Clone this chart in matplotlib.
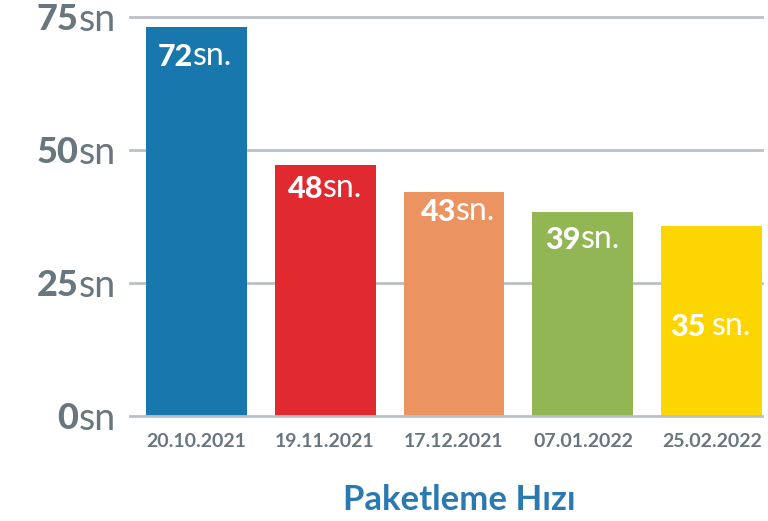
import matplotlib
matplotlib.use("Agg")
import matplotlib.pyplot as plt
import numpy as np

# ---- data ----
dates = ["20.10.2021", "19.11.2021", "17.12.2021", "07.01.2022", "25.02.2022"]
label_values = ["72", "48", "43", "39", "35"]          # printed values
bar_heights = [73.0, 47.1, 42.0, 38.2, 35.7]           # bar tops as drawn
y_ticks = [0, 25, 50, 75]
title = "Paketleme Hızı"

# ---- styles ----
colors = ["#1878ae", "#e12a30", "#eb9361", "#93b655", "#fdd500"]
gray = "#69767e"
grid_col = "#b9c0c6"
title_col = "#2a79b0"
FONT = "Lato"

# per-label placement (pixels): inset from bar left, drop from bar top to cap top
label_dx = [12, 13, 17, 13, 9]
label_dy = [17, 11, 7, 15, 88]
label_gap = [0, 0, 0, 0, 6]

W, H, DPI = 768, 521, 100
fig = plt.figure(figsize=(W / DPI, H / DPI), dpi=DPI)
ax_left, ax_right = 130, 762
ax_top, ax_bot = 16.7, 415.7
ax = fig.add_axes([ax_left / W, (H - ax_bot) / H,
                   (ax_right - ax_left) / W, (ax_bot - ax_top) / H])

x = np.arange(len(dates))
bw = 0.783
ax.set_xlim(-0.512, 4.388)
ax.set_ylim(0, 75)

for yt in y_ticks:
    ax.axhline(yt, color=grid_col, lw=2.0, zorder=0 if yt else 3, clip_on=False)

ax.bar(x, bar_heights, width=bw, color=colors, zorder=2)

for s in ax.spines.values():
    s.set_visible(False)
ax.set_xticks([])
ax.set_yticks([])

# y tick labels: bold number + regular "sn"
for yt in y_ticks:
    sn = ax.annotate("sn", xy=(0, yt), xycoords=("axes fraction", "data"),
                     xytext=(-14, 0), textcoords="offset pixels",
                     ha="right", va="center_baseline", fontsize=27,
                     family=FONT, color=gray)
    ax.annotate(str(yt), xy=(0, yt), xycoords=(sn, "data"),
                ha="right", va="center_baseline", fontsize=26,
                family=FONT, fontweight="black", color=gray)

# x labels
for xi, d in zip(x, dates):
    ax.annotate(d, xy=(xi, 0), xycoords="data", xytext=(0, -26),
                textcoords="offset pixels", ha="center", va="center",
                fontsize=14, family=FONT, fontweight="bold", color=gray)

# bar value labels
for i, (xi, h, lv) in enumerate(zip(x, bar_heights, label_values)):
    num = ax.annotate(lv, xy=(xi - bw / 2, h), xycoords="data",
                      xytext=(label_dx[i], -(label_dy[i] + 22)),
                      textcoords="offset pixels", ha="left", va="baseline",
                      fontsize=22, family=FONT, fontweight="black",
                      color="white", zorder=5)
    ax.annotate("sn.", xy=(1, 0), xycoords=num,
                xytext=(label_gap[i], 0), textcoords="offset pixels",
                ha="left", va="bottom", fontsize=23, family=FONT,
                color="white", zorder=5)

fig.text(459.5 / W, (H - 500) / H, title, ha="center", va="center",
         fontsize=25, family=FONT, fontweight="bold", color=title_col)

fig.savefig("out.png", dpi=DPI)
